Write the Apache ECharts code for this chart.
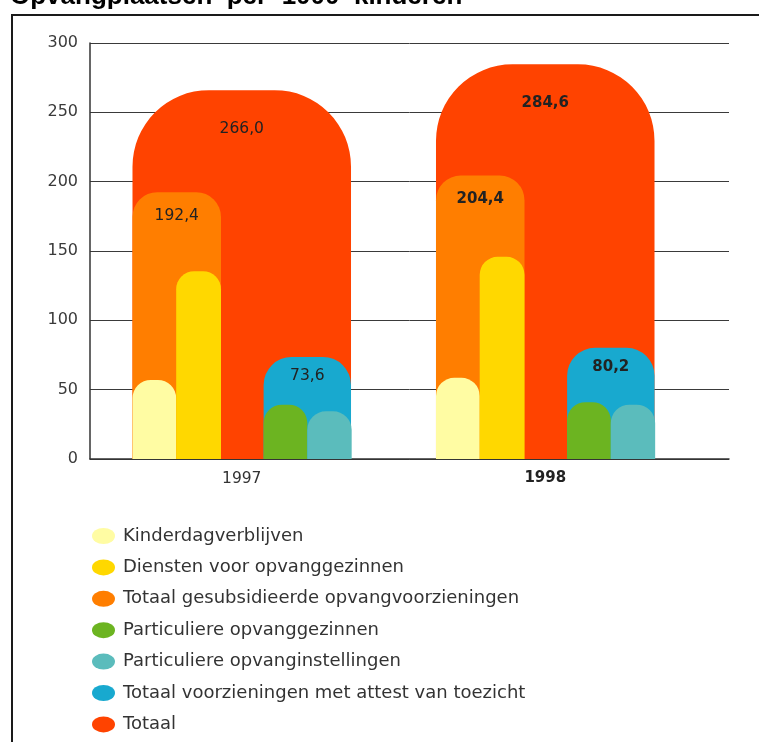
<!DOCTYPE html>
<html>
<head>
<meta charset="utf-8">
<script src="https://cdn.jsdelivr.net/npm/echarts@6/dist/echarts.min.js"></script>
<style>
html,body{margin:0;padding:0;background:#fff;}
#chart{width:759px;height:742px;}
</style>
</head>
<body>
<div id="chart"></div>
<script>
// ---- data ----
const categories = ['1997', '1998'];
const kinderdagverblijven = [57.0, 58.6];
const dienstenOpvanggezinnen = [135.4, 145.8];
const totaalGesubsidieerd = [192.4, 204.4];
const particuliereGezinnen = [39.2, 41.0];
const particuliereInstellingen = [34.4, 39.2];
const totaalAttest = [73.6, 80.2];
const totaal = [266.0, 284.6];
const yTicks = [0, 50, 100, 150, 200, 250, 300];

const names = {
  kinder: 'Kinderdagverblijven',
  diensten: 'Diensten voor opvanggezinnen',
  gesub: 'Totaal gesubsidieerde opvangvoorzieningen',
  pgez: 'Particuliere opvanggezinnen',
  pinst: 'Particuliere opvanginstellingen',
  attest: 'Totaal voorzieningen met attest van toezicht',
  totaal: 'Totaal'
};

const colors = {
  kinder: '#FFFCA3',
  diensten: '#FFD800',
  gesub: '#FF7E00',
  pgez: '#6CB421',
  pinst: '#5BBCBC',
  attest: '#18A9CF',
  totaal: '#FF4300'
};

const FONT = '"DejaVu Sans", Verdana, sans-serif';

function fmt(v) { return v.toFixed(1).replace('.', ','); }

function makeRender(x0, x1, rFrac, labelOffset, showLabel) {
  return function (params, api) {
    const idx = api.value(0);
    const v = api.value(1);
    const top = api.coord([idx, v]);
    const base = api.coord([idx, 0]);
    const bw = api.size([1, 0])[0];
    const W = bw * 0.72;
    const left = top[0] - W / 2 + x0 * W;
    const w = (x1 - x0) * W;
    const h = base[1] - top[1];
    const r = Math.min(w * rFrac, h);
    const children = [{
      type: 'rect',
      shape: { x: left, y: top[1], width: w, height: h, r: [r, r, 0, 0] },
      style: { fill: api.visual('color') }
    }];
    if (showLabel) {
      children.push({
        type: 'text',
        style: {
          text: fmt(v),
          x: left + w / 2,
          y: top[1] + labelOffset,
          align: 'center',
          verticalAlign: 'middle',
          fill: '#222',
          font: (idx === 1 ? 'bold 15px ' : '15.5px ') + FONT
        }
      });
    }
    return { type: 'group', children: children };
  };
}

function toData(arr) { return arr.map((v, i) => [i, v]); }

function customSeries(key, arr, x0, x1, rFrac, labelOffset, showLabel) {
  return {
    type: 'custom',
    name: names[key],
    xAxisIndex: 1,
    yAxisIndex: 1,
    itemStyle: { color: colors[key] },
    renderItem: makeRender(x0, x1, rFrac, labelOffset, showLabel),
    data: toData(arr),
    encode: { x: 0, y: 1 }
  };
}

const ellipse = 'path://M0,8 A11.5,8 0 1,1 23,8 A11.5,8 0 1,1 0,8 Z';

const chart = echarts.init(document.getElementById('chart'), null, { renderer: 'canvas' });
chart.setOption({
  animation: false,
  backgroundColor: '#fff',
  textStyle: { fontFamily: FONT },
  graphic: [
    {
      type: 'text',
      left: 10,
      top: -16,
      style: {
        text: 'Opvangplaatsen  per  1000  kinderen',
        font: 'bold 26px "Liberation Sans", Arial, sans-serif',
        fill: '#000'
      }
    },
    {
      type: 'rect',
      shape: { x: 12, y: 15, width: 800, height: 800 },
      style: { fill: 'none', stroke: '#1a1a1a', lineWidth: 2 },
      z: 0
    }
  ],
  grid: [
    { left: 90, top: 43, width: 639, height: 416 },
    { left: 90, top: 43, width: 607, height: 416 }
  ],
  xAxis: [
    {
      gridIndex: 0, type: 'value', min: 0, max: 1,
      axisLine: { show: true, lineStyle: { color: '#333', width: 1.5 } },
      axisTick: { show: false }, axisLabel: { show: false }, splitLine: { show: false }
    },
    {
      gridIndex: 1, type: 'category', data: categories,
      axisLine: { show: false }, axisTick: { show: false },
      splitLine: { show: false },
      axisLabel: {
        margin: 12, fontSize: 15.5, color: '#333', fontFamily: FONT,
        formatter: function (v) { return v === '1998' ? '{b|' + v + '}' : v; },
        rich: { b: { fontWeight: 'bold', fontSize: 15, color: '#222', fontFamily: FONT } }
      }
    }
  ],
  yAxis: [
    {
      gridIndex: 0, type: 'value', min: yTicks[0], max: yTicks[yTicks.length - 1], interval: 50,
      axisLine: { show: true, lineStyle: { color: '#333', width: 1.5 } },
      axisTick: { show: false },
      axisLabel: { margin: 12, fontSize: 16, color: '#3a3a3a', fontFamily: FONT },
      splitLine: { show: true, lineStyle: { color: '#3a3a3a', width: 1 } }
    },
    {
      gridIndex: 1, type: 'value', min: 0, max: 300, show: false
    }
  ],
  legend: {
    orient: 'vertical',
    left: 87,
    top: 522,
    height: 230,
    itemWidth: 23,
    itemHeight: 16,
    itemGap: 13.4,
    icon: ellipse,
    textStyle: { fontSize: 18, lineHeight: 16, color: '#333', fontFamily: FONT, padding: [0, 0, 0, 3] },
    data: [names.kinder, names.diensten, names.gesub, names.pgez, names.pinst, names.attest, names.totaal]
  },
  series: [
    customSeries('totaal', totaal, 0, 1, 0.35, 39, true),
    customSeries('gesub', totaalGesubsidieerd, 0, 0.405, 0.28, 24, true),
    customSeries('attest', totaalAttest, 0.6, 1, 0.32, 19, true),
    customSeries('kinder', kinderdagverblijven, 0, 0.2, 0.42, 0, false),
    customSeries('diensten', dienstenOpvanggezinnen, 0.2, 0.405, 0.4, 0, false),
    customSeries('pgez', particuliereGezinnen, 0.6, 0.8, 0.42, 0, false),
    customSeries('pinst', particuliereInstellingen, 0.8, 1.003, 0.42, 0, false)
  ]
});
</script>
</body>
</html>
